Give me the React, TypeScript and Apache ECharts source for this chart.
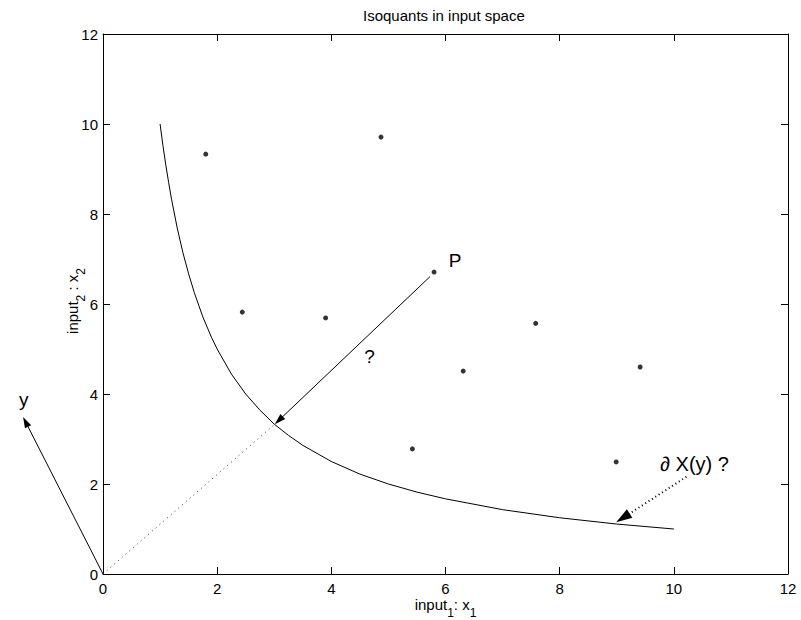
import React, { useEffect, useRef } from 'react';
import * as echarts from 'echarts';

// Observed input combinations
const pointsX = [1.8, 4.87, 5.8, 2.44, 3.9, 7.58, 6.31, 9.41, 5.42, 8.99];
const pointsY = [9.33, 9.71, 6.71, 5.82, 5.69, 5.57, 4.51, 4.6, 2.78, 2.49];

// Isoquant curve
const curveX = [1, 1.05, 1.1, 1.15, 1.2, 1.3, 1.4, 1.5, 1.6, 1.75, 1.9, 2, 2.25, 2.5, 2.75, 3, 3.25, 3.5, 4, 4.5, 5, 5.5, 6, 7, 8, 9, 10];
const curveY = [10, 9.52, 9.09, 8.7, 8.33, 7.69, 7.14, 6.67, 6.25, 5.71, 5.26, 5, 4.44, 4, 3.64, 3.33, 3.08, 2.86, 2.5, 2.22, 2, 1.82, 1.67, 1.43, 1.25, 1.11, 1];

// Dotted ray from origin to the isoquant
const rayX = [0, 3.01];
const rayY = [0, 3.33];

// Arrows: P -> isoquant, origin -> y, annotation -> isoquant
const arrowFromX = [5.73, 0, 10.22];
const arrowFromY = [6.61, 0, 2.16];
const arrowToX = [3.01, -1.4, 8.99];
const arrowToY = [3.33, 3.49, 1.15];

// Annotation texts
const labelText = ['P', '?', '\u2202 X(y) ?', 'y'];
const labelX = [6.17, 4.67, 9.76, -1.39];
const labelY = [6.96, 4.84, 2.44, 3.87];

const FONT = 'Liberation Sans, Arial, Helvetica, sans-serif';

export default function App() {
  const ref = useRef<HTMLDivElement>(null);
  useEffect(() => {
    document.body.style.margin = '0';
    const chart = echarts.init(ref.current!, null, { renderer: 'svg' });
    const axisCommon = {
      type: 'value',
      min: 0,
      max: 12,
      interval: 2,
      axisLine: { show: true, onZero: false, lineStyle: { color: '#000', width: 1 } },
      axisTick: { show: true, inside: true, length: 7, lineStyle: { color: '#000' } },
      splitLine: { show: false },
    };
    const sub = { fontSize: 12, lineHeight: 12, padding: [17, 0, 0, 0], fontFamily: FONT, color: '#000' };
    const main = { fontSize: 15, lineHeight: 24, fontFamily: FONT, color: '#000' };
    chart.setOption({
      animation: false,
      backgroundColor: '#fff',
      title: {
        text: 'Isoquants in input space',
        left: 363,
        top: 8,
        padding: 0,
        textStyle: { fontSize: 15, fontWeight: 'normal', color: '#000', fontFamily: FONT },
      },
      grid: { left: 103, right: 13, top: 34, bottom: 46, containLabel: false, outerBoundsMode: 'none' },
      xAxis: [
        {
          ...axisCommon,
          position: 'bottom',
          name: 'input{s|1}: x{s|1}',
          nameLocation: 'middle',
          nameGap: 18,
          nameMoveOverlap: false,
          nameTextStyle: { ...main, rich: { s: sub } },
          axisLabel: { color: '#000', fontSize: 15, lineHeight: 15, fontFamily: FONT, margin: 7 },
        },
        { ...axisCommon, position: 'top', axisLabel: { show: false } },
      ],
      yAxis: [
        {
          ...axisCommon,
          position: 'left',
          name: 'input{s|2} : x{s|2}',
          nameLocation: 'middle',
          nameGap: 19,
          nameMoveOverlap: false,
          nameTextStyle: { ...main, padding: [0, 0, 0, 6], rich: { s: sub } },
          axisLabel: { color: '#000', fontSize: 15, fontFamily: FONT, margin: 5 },
        },
        { ...axisCommon, position: 'right', axisLabel: { show: false } },
      ],
      series: [
        {
          type: 'line',
          data: curveX.map((x, i) => [x, curveY[i]]),
          smooth: false,
          symbol: 'none',
          lineStyle: { color: '#000', width: 1 },
        },
        {
          type: 'line',
          data: rayX.map((x, i) => [x, rayY[i]]),
          symbol: 'none',
          lineStyle: { color: '#333', width: 1, type: [1, 4] },
        },
        {
          type: 'scatter',
          data: pointsX.map((x, i) => [x, pointsY[i]]),
          symbolSize: 5,
          itemStyle: { color: '#000' },
        },
        {
          type: 'custom',
          clip: false,
          data: arrowFromX.map((x, i) => [x, arrowFromY[i], arrowToX[i], arrowToY[i]]),
          renderItem: (params: any, api: any) => {
            const i = params.dataIndex;
            const a = api.coord([api.value(0), api.value(1)]);
            const b = api.coord([api.value(2), api.value(3)]);
            const dotted = i === 2;
            const len = dotted ? 16 : 11;
            const half = dotted ? 5 : 3.5;
            const dx = b[0] - a[0];
            const dy = b[1] - a[1];
            const d = Math.hypot(dx, dy);
            const ux = dx / d;
            const uy = dy / d;
            const bx = b[0] - ux * len;
            const by = b[1] - uy * len;
            return {
              type: 'group',
              children: [
                {
                  type: 'line',
                  shape: { x1: a[0], y1: a[1], x2: bx + ux * 2, y2: by + uy * 2 },
                  style: {
                    stroke: '#000',
                    lineWidth: dotted ? 2 : 1,
                    lineDash: dotted ? [1, 3] : null,
                  },
                },
                {
                  type: 'polygon',
                  shape: {
                    points: [
                      [b[0], b[1]],
                      [bx - uy * half, by + ux * half],
                      [bx + uy * half, by - ux * half],
                    ],
                  },
                  style: { fill: '#000' },
                },
              ],
            };
          },
        },
        {
          type: 'custom',
          clip: false,
          data: labelX.map((x, i) => [x, labelY[i]]),
          renderItem: (params: any, api: any) => {
            const i = params.dataIndex;
            const p = api.coord([api.value(0), api.value(1)]);
            return {
              type: 'text',
              x: p[0],
              y: p[1],
              style: {
                text: labelText[i],
                fontSize: i === 2 ? 20 : 19,
                fontFamily: FONT,
                fill: '#000',
                align: i === 2 ? 'left' : 'center',
                verticalAlign: 'middle',
              },
            };
          },
        },
      ],
    });
    return () => chart.dispose();
  }, []);
  return <div ref={ref} style={{ width: 801, height: 620 }} />;
}
